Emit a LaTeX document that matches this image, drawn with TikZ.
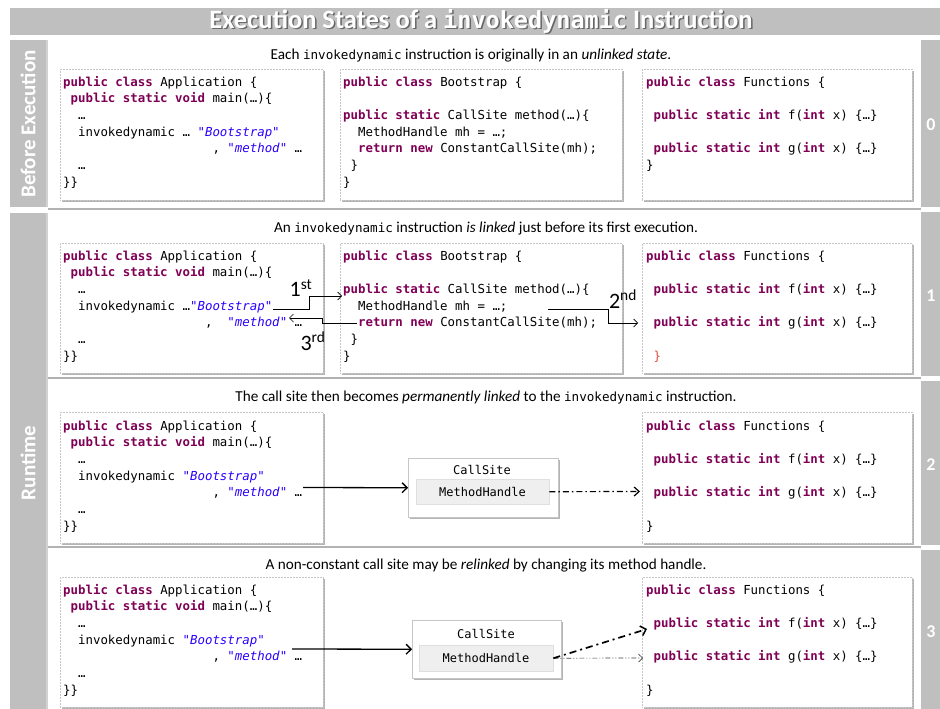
\documentclass[tikz,border=0pt]{standalone}
\usepackage{fontspec}
\setmainfont{Carlito}
\newfontfamily\monofont{DejaVu Sans Mono}
\usetikzlibrary{arrows.meta,shadows}

\definecolor{kwcol}{HTML}{7F0055}
\definecolor{strcol}{HTML}{2A00FF}
\definecolor{bargray}{HTML}{BFBFBF}
\definecolor{redbrace}{HTML}{E0503A}
\definecolor{mhfill}{HTML}{EFEFEF}

% code typesetting helpers
\newcommand\codefont{\monofont\fontsize{12.4}{16.67}\selectfont}
\newcommand\capmono{\monofont\fontsize{12.6}{14}\selectfont}
\newcommand\kw[1]{\textcolor{kwcol}{\bfseries #1}}
\newcommand\jstr[1]{\textcolor{strcol}{"\textit{#1}"}}
\newcommand\ind[1]{\hspace*{#1\fontcharwd\font`x}}
\newcommand\fst{\rule{0pt}{10pt}}

\begin{document}
\begin{tikzpicture}[x=1pt,y=-1pt,
  strip/.style={fill=bargray, draw=none},
  codebox/.style={draw=gray!45, densely dotted, line width=0.5pt, fill=white,
    anchor=north west, inner sep=0pt,
    drop shadow={shadow xshift=1.8pt, shadow yshift=-1.8pt, opacity=0.45, fill=gray!70!black}},
  code/.style={anchor=north west, inner sep=0pt, align=left, font=\codefont},
  caption/.style={font=\fontsize{15.2}{17}\selectfont, inner sep=0pt},
  sidelbl/.style={font=\bfseries\fontsize{21}{24}\selectfont, text=white, rotate=90, inner sep=0pt},
  numlbl/.style={font=\bfseries\fontsize{18}{20}\selectfont, text=white, inner sep=0pt},
  ordlbl/.style={font=\fontsize{22}{24}\selectfont, inner sep=0pt},
  csbox/.style={draw=gray!45, line width=0.5pt, fill=white, anchor=north west, inner sep=0pt,
    drop shadow={shadow xshift=1.8pt, shadow yshift=-1.8pt, opacity=0.45, fill=gray!70!black}},
  mhbox/.style={draw=gray!25, line width=0.4pt, fill=mhfill, anchor=north west, inner sep=0pt},
  cstext/.style={font=\monofont\fontsize{12}{14}\selectfont, inner sep=0pt},
  titlefont/.style={font=\bfseries\fontsize{26.5}{30}\selectfont, inner sep=0pt},
  thinarrow/.style={line width=0.7pt, -{Straight Barb[length=4pt,width=8pt]}},
  bigarrow/.style={line width=1.3pt, -{Straight Barb[length=5pt,width=10pt]}},
  dasharrow/.style={line width=1.2pt, dash pattern=on 6pt off 3pt on 1.5pt off 3pt,
    -{Straight Barb[length=5pt,width=9pt,line width=1.2pt]}},
  heavydash/.style={line width=1.7pt, dash pattern=on 7pt off 4pt on 2pt off 4pt,
    -{Straight Barb[length=5pt,width=10pt,line width=1.5pt]}},
  lightdash/.style={line width=0.7pt, draw=black!75, dash pattern=on 5pt off 2pt on 1pt off 2pt on 1pt off 2pt,
    -{Straight Barb[length=4pt,width=8pt]}}
]
\useasboundingbox (0,0) rectangle (940,709);
\fill[white] (0,0) rectangle (940,709);

% ---------- frame: title bar, side strips, row separators ----------
\fill[bargray] (10,8) rectangle (940,35);
\node[titlefont, text=black!60] (titleshadow) at (482.5,22.5)
  {Execution States of a {\monofont\fontsize{23.5}{30}\selectfont invokedynamic} Instruction};
\node[titlefont, text=white] (title) at (481,21)
  {Execution States of a {\monofont\fontsize{23.5}{30}\selectfont invokedynamic} Instruction};

\fill[strip] (10,40) rectangle (46,207);
\fill[strip] (10,213) rectangle (46,709);
\draw[gray!35, line width=1.2pt] (47,40) -- (47,207);
\draw[gray!35, line width=1.2pt] (47,213) -- (47,709);
\node[sidelbl] (lbl0) at (28,124) {Before Execution};
\node[sidelbl] (lbl1) at (28,463) {Runtime};

\fill[strip] (921,40) rectangle (940,207);
\fill[strip] (921,212) rectangle (940,376);
\fill[strip] (921,381) rectangle (940,545);
\fill[strip] (921,550) rectangle (940,709);
\node[numlbl] (num0) at (931,125) {0};
\node[numlbl] (num1) at (931,296) {1};
\node[numlbl] (num2) at (931,465) {2};
\node[numlbl] (num3) at (931,632) {3};

\draw[gray!60, line width=1.6pt] (48,209) -- (921,209);
\draw[gray!60, line width=1.6pt] (48,378) -- (921,378);
\draw[gray!60, line width=1.6pt] (48,547) -- (921,547);

% ---------- captions ----------
\node[caption] (cap0) at (471,56) {Each {\capmono invokedynamic} instruction is originally in an \textit{unlinked state}.};
\node[caption] (cap1) at (486,229) {An {\capmono invokedynamic} instruction \textit{is linked} just before its first execution.};
\node[caption] (cap2) at (486,398) {The call site then becomes \textit{permanently linked} to the {\capmono invokedynamic} instruction.};
\node[caption] (cap3) at (486,566) {A non-constant call site may be \textit{relinked} by changing its method handle.};

% ---------- row 0: before execution ----------
\node[codebox, minimum width=263pt, minimum height=131pt] (app0) at (60,69) {};
\node[code] (app0t) at (63,76) {\fst\kw{public class} Application \{\\
\ind{1}\kw{public static void} main(…)\{\\
\ind{2}…\\
\ind{2}invokedynamic … \jstr{Bootstrap}\\
\ind{20}, \jstr{method} …\\
\ind{2}…\\
\}\}};
\node[codebox, minimum width=282pt, minimum height=131pt] (bs0) at (340,69) {};
\node[code] (bs0t) at (343,76) {\fst\kw{public class} Bootstrap \{\\
\mbox{}\\
\kw{public static} CallSite method(…)\{\\
\ind{2}MethodHandle mh = …;\\
\ind{2}\kw{return new} ConstantCallSite(mh);\\
\ind{1}\}\\
\}};
\node[codebox, minimum width=270pt, minimum height=131pt] (fn0) at (642,69) {};
\node[code] (fn0t) at (646,76) {\fst\kw{public class} Functions \{\\
\mbox{}\\
\ind{1}\kw{public static int} f(\kw{int} x) \{…\}\\
\mbox{}\\
\ind{1}\kw{public static int} g(\kw{int} x) \{…\}\\
\}};

% ---------- row 1: linking ----------
\node[codebox, minimum width=263pt, minimum height=130pt] (app1) at (60,243) {};
\node[code] (app1t) at (63,250) {\fst\kw{public class} Application \{\\
\ind{1}\kw{public static void} main(…)\{\\
\ind{2}…\\
\ind{2}invokedynamic …\jstr{Bootstrap}\\
\ind{19},\ind{2}\jstr{method} …\\
\ind{2}…\\
\}\}};
\node[codebox, minimum width=282pt, minimum height=130pt] (bs1) at (340,243) {};
\node[code] (bs1t) at (343,250) {\fst\kw{public class} Bootstrap \{\\
\mbox{}\\
\kw{public static} CallSite method(…)\{\\
\ind{2}MethodHandle mh = …;\\
\ind{2}\kw{return new} ConstantCallSite(mh);\\
\ind{1}\}\\
\}};
\node[codebox, minimum width=270pt, minimum height=130pt] (fn1) at (642,243) {};
\node[code] (fn1t) at (646,250) {\fst\kw{public class} Functions \{\\
\mbox{}\\
\ind{1}\kw{public static int} f(\kw{int} x) \{…\}\\
\mbox{}\\
\ind{1}\kw{public static int} g(\kw{int} x) \{…\}\\
\mbox{}\\
\ind{1}\textcolor{redbrace}{\}}};

\coordinate (bsref) at (273,309);
\coordinate (bsentry) at (342,296);
\coordinate (retpt) at (357,323);
\coordinate (methref) at (289,318);
\coordinate (mhpt) at (548,309);
\coordinate (gentry) at (638,323);
\draw[thinarrow] (bsref) -- (309,309) -- (309,296) -- (bsentry);
\draw[thinarrow] (retpt) -- (322,323) -- (322,318) -- (methref);
\draw[thinarrow] (mhpt) -- (608,309) -- (608,323) -- (gentry);
\node[ordlbl] (ord1) at (301,288) {1\textsuperscript{st}};
\node[ordlbl] (ord3) at (313,341) {3\textsuperscript{rd}};
\node[ordlbl] (ord2) at (623,299) {2\textsuperscript{nd}};

% ---------- row 2: permanently linked ----------
\node[codebox, minimum width=263pt, minimum height=131pt] (app2) at (60,412) {};
\node[code] (app2t) at (63,420) {\fst\kw{public class} Application \{\\
\ind{1}\kw{public static void} main(…)\{\\
\ind{2}…\\
\ind{2}invokedynamic \jstr{Bootstrap}\\
\ind{20}, \jstr{method} …\\
\ind{2}…\\
\}\}};
\node[codebox, minimum width=270pt, minimum height=131pt] (fn2) at (642,412) {};
\node[code] (fn2t) at (646,420) {\fst\kw{public class} Functions \{\\
\mbox{}\\
\ind{1}\kw{public static int} f(\kw{int} x) \{…\}\\
\mbox{}\\
\ind{1}\kw{public static int} g(\kw{int} x) \{…\}\\
\mbox{}\\
\}};
\node[csbox, minimum width=150pt, minimum height=59pt] (cs2) at (408,458) {};
\node[cstext] (cs2t) at (482,470) {CallSite};
\node[mhbox, minimum width=133pt, minimum height=25pt] (mh2) at (416,479) {};
\node[cstext] (mh2t) at (482.5,491.5) {MethodHandle};
\coordinate (meth2) at (303,487.5);
\coordinate (g2entry) at (640,491.5);
\draw[bigarrow] (meth2) -- (cs2.west);
\draw[dasharrow] (mh2.east) -- (g2entry);

% ---------- row 3: relinking ----------
\node[codebox, minimum width=263pt, minimum height=130pt] (app3) at (60,577) {};
\node[code] (app3t) at (63,584) {\fst\kw{public class} Application \{\\
\ind{1}\kw{public static void} main(…)\{\\
\ind{2}…\\
\ind{2}invokedynamic \jstr{Bootstrap}\\
\ind{20}, \jstr{method} …\\
\ind{2}…\\
\}\}};
\node[codebox, minimum width=270pt, minimum height=130pt] (fn3) at (642,577) {};
\node[code] (fn3t) at (646,584) {\fst\kw{public class} Functions \{\\
\mbox{}\\
\ind{1}\kw{public static int} f(\kw{int} x) \{…\}\\
\mbox{}\\
\ind{1}\kw{public static int} g(\kw{int} x) \{…\}\\
\mbox{}\\
\}};
\node[csbox, minimum width=149pt, minimum height=58pt] (cs3) at (412,620) {};
\node[cstext] (cs3t) at (486,634) {CallSite};
\node[mhbox, minimum width=134pt, minimum height=26pt] (mh3) at (419,645) {};
\node[cstext] (mh3t) at (486,658) {MethodHandle};
\coordinate (meth3) at (292,649);
\coordinate (f3entry) at (647,629);
\coordinate (g3entry) at (643,658);
\draw[bigarrow] (meth3) -- (cs3.west);
\draw[lightdash] (mh3.east) -- (g3entry);
\draw[heavydash] (mh3.east) -- (f3entry);
\end{tikzpicture}
\end{document}
